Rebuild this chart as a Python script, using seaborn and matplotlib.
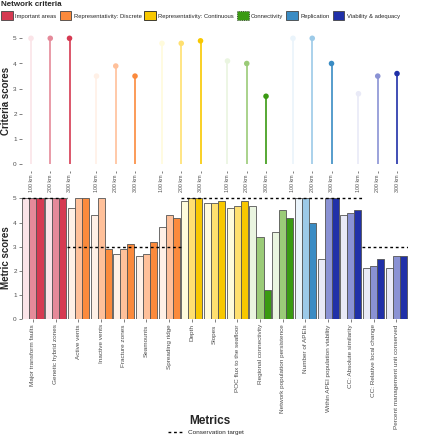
import pandas as pd
import matplotlib
matplotlib.use("Agg")
import matplotlib.pyplot as plt
import seaborn as sns
from matplotlib.patches import Patch
from matplotlib.lines import Line2D

# criteria (top panel)
criteria = ["Important areas", "Representativity: Discrete", "Representativity: Continuous",
            "Connectivity", "Replication", "Viability & adequacy"]
resolutions = ["100 km", "200 km", "300 km"]

important_scores = [5.0, 5.0, 5.0]
discrete_scores = [3.5, 3.9, 3.5]
continuous_scores = [4.8, 4.8, 4.9]
connectivity_scores = [4.1, 4.0, 2.7]
replication_scores = [5.0, 5.0, 4.0]
viability_scores = [2.8, 3.5, 3.6]

# metrics (bottom panel)
metrics = ["Major transform faults", "Genetic hybrid zones", "Active vents", "Inactive vents",
           "Fracture zones", "Seamounts", "Spreading ridge", "Depth", "Slopes",
           "POC flux to the seafloor", "Regional connectivity", "Network population persistence",
           "Number of APEIs", "Within APEI population viability", "CC: Absolute similarity",
           "CC: Relative local change", "Percent management unit conserved"]
metric_criterion = [0, 0, 1, 1, 1, 1, 1, 2, 2, 2, 3, 3, 4, 5, 5, 5, 5]
score_100 = [5.0, 5.0, 4.6, 4.3, 2.7, 2.6, 3.8, 4.9, 4.8, 4.6, 4.7, 3.6, 5.0, 2.5, 4.3, 2.1, 2.1]
score_200 = [5.0, 5.0, 5.0, 5.0, 2.9, 2.7, 4.3, 5.0, 4.8, 4.7, 3.4, 4.5, 5.0, 5.0, 4.4, 2.2, 2.6]
score_300 = [5.0, 5.0, 5.0, 2.9, 3.1, 3.2, 4.2, 5.0, 4.9, 4.9, 1.2, 4.2, 4.0, 5.0, 4.5, 2.5, 2.6]
targets = [5, 5, 3, 3, 3, 3, 3, 5, 5, 5, 5, 5, 5, 5, 5, 3, 3]

legend_colors = ["#d63a52", "#fb8a3c", "#f8c800", "#3a9a12", "#3a8cc4", "#2030a8"]
shades = [
    ["#fbe4e8", "#e58a9a", "#d63a52"],
    ["#fff0e6", "#ffc09a", "#fb8a3c"],
    ["#fffbdc", "#ffe070", "#f8c800"],
    ["#eaf5e0", "#9bcb78", "#3a9a12"],
    ["#eaf4fb", "#9ccae8", "#3a8cc4"],
    ["#e9eaf7", "#8a92d4", "#2030a8"],
]

sns.set_style("white")
plt.rcParams["font.family"] = ["Liberation Sans", "DejaVu Sans"]

W, H = 422, 440
fig = plt.figure(figsize=(W / 100, H / 100), dpi=100)

def px_axes(left, top, right, bottom):
    return fig.add_axes([left / W, 1 - bottom / H, (right - left) / W, (bottom - top) / H])

tick_col = "#4d4d4d"

# ---- top panel: lollipops
all_scores = [important_scores, discrete_scores, continuous_scores,
              connectivity_scores, replication_scores, viability_scores]
rows = []
for g, sc in enumerate(all_scores):
    for r, res in enumerate(resolutions):
        rows.append({"criterion": criteria[g], "resolution": res, "score": sc[r],
                     "pos": g * 3.4 + r, "key": f"{g}-{r}", "color": shades[g][r]})
top = pd.DataFrame(rows)

ax1 = px_axes(21.6, 32, 407.6, 170.6)
ax1.vlines(top["pos"], 0, top["score"], colors=top["color"], lw=1.2, zorder=1)
sns.scatterplot(data=top, x="pos", y="score", hue="key",
                palette=dict(zip(top["key"], top["color"])), s=16, linewidth=0,
                legend=False, ax=ax1, zorder=2)
ax1.set_xlim(-0.488, 19.55)
ax1.set_ylim(-0.25, 5.25)
ax1.set_yticks(range(6))
ax1.set_xticks(top["pos"])
ax1.set_xticklabels(top["resolution"], rotation=90)
ax1.set_xlabel("")
ax1.set_ylabel("")
for s in ax1.spines.values():
    s.set_visible(False)
ax1.tick_params(axis="both", length=2, width=0.5, color=tick_col, labelsize=4.6,
                labelcolor=tick_col, pad=1.5, left=True, bottom=True)
ax1.tick_params(axis="x", labelsize=3.8, pad=1, length=1.5)

# ---- bottom panel: bars
long = pd.DataFrame({
    "metric": metrics * 3,
    "resolution": [resolutions[0]] * 17 + [resolutions[1]] * 17 + [resolutions[2]] * 17,
    "score": score_100 + score_200 + score_300,
})

ax2 = px_axes(21.6, 195.9, 407.6, 319.3)
sns.barplot(data=long, x="metric", y="score", hue="resolution", order=metrics,
            hue_order=resolutions, width=0.93, errorbar=None, edgecolor="#555555",
            linewidth=0.6, legend=False, ax=ax2)
for r, cont in enumerate(ax2.containers):
    for i, bar in enumerate(cont):
        bar.set_facecolor(shades[metric_criterion[i]][r])

# conservation targets, merged into runs
start = 0
for i in range(1, len(targets) + 1):
    if i == len(targets) or targets[i] != targets[start]:
        ax2.hlines(targets[start], start - 0.5, i - 0.5, colors="black",
                   linestyles=(0, (2, 2)), lw=1, zorder=5)
        start = i

ax2.set_xlim(-0.5, 16.5)
ax2.set_ylim(0, 5.1)
ax2.set_yticks(range(6))
ax2.set_xlabel("")
ax2.set_ylabel("")
for s in ax2.spines.values():
    s.set_visible(False)
ax2.tick_params(axis="x", rotation=90)
ax2.tick_params(axis="both", length=2, width=0.5, color=tick_col, labelsize=4.6,
                labelcolor=tick_col, pad=1.5, left=True, bottom=True)

fig.text(6 / W, 1 - 101 / H, "Criteria scores", rotation=90, ha="center", va="center",
         fontsize=7, fontweight="bold")
fig.text(6 / W, 1 - 257.6 / H, "Metric scores", rotation=90, ha="center", va="center",
         fontsize=7, fontweight="bold")
fig.text(210 / W, 1 - 421 / H, "Metrics", ha="center", va="center",
         fontsize=8.5, fontweight="bold")

# legends
handles = []
for i, c in enumerate(criteria):
    ec = "#444444"
    ls = "-"
    if i == 2:
        ec = "#222222"
    if i == 3:
        ec = "#222222"
        ls = ":"
    handles.append(Patch(facecolor=legend_colors[i], edgecolor=ec, linestyle=ls,
                         linewidth=0.6, label=c))
leg = fig.legend(handles=handles, loc="upper left", bbox_to_anchor=(0.0, 1.0), ncol=6,
                 frameon=False, fontsize=4.2, title="Network criteria", alignment="left",
                 title_fontproperties={"weight": "bold", "size": 5.8},
                 handlelength=2.0, handleheight=1.9, handletextpad=0.4,
                 columnspacing=0.5, borderpad=0.15, borderaxespad=0.1)

fig.legend(handles=[Line2D([], [], color="black", ls=(0, (2, 2)), lw=1,
                           label="Conservation target")],
           loc="center", bbox_to_anchor=(206 / W, 1 - 432 / H), frameon=False,
           fontsize=4.6, handlelength=2.5, handletextpad=0.5, borderpad=0)

fig.savefig("out.png", dpi=100)
